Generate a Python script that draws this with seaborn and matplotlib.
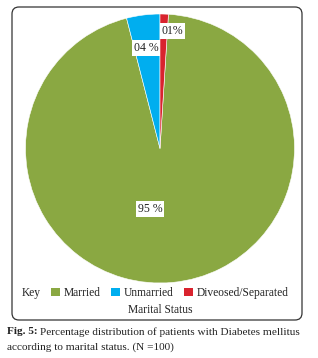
import numpy as np
import matplotlib
matplotlib.use("Agg")
import matplotlib.pyplot as plt
import seaborn as sns
from matplotlib.patches import FancyBboxPatch, Patch
from matplotlib.transforms import IdentityTransform

# Data: marital status of patients with diabetes mellitus (N=100)
categories = ["Married", "Unmarried", "Diveosed/Separated"]
percentages = [95, 4, 1]
pct_labels = ["95 %", "04 %", "01%"]

sns.set_theme(style="white")
plt.rcParams['font.family'] = ['Liberation Serif', 'DejaVu Serif']
colors = ["#8aa842", "#00aeef", "#d9232e"]

W, H = 318, 358
fig = plt.figure(figsize=(W / 100, H / 100), dpi=100)
fig.patch.set_facecolor("white")

# rounded frame around the chart (pixel coords, origin bottom-left)
frame = FancyBboxPatch((12, H - 320), 290, 313,
                       boxstyle="round,pad=0,rounding_size=7",
                       transform=IdentityTransform(), facecolor="none",
                       edgecolor="#333333", linewidth=0.9)
fig.patches.append(frame)

# pie axes
cx, cy, r = 160, H - 148.5, 134.5
ax = fig.add_axes([(cx - r) / W, (cy - r) / H, 2 * r / W, 2 * r / H])
wedges, _ = ax.pie(percentages, colors=colors, startangle=86.4,
                   counterclock=False, radius=1,
                   wedgeprops=dict(edgecolor="white", linewidth=0.4))
ax.set_xlim(-1, 1)
ax.set_ylim(-1, 1)
ax.set_aspect("equal")
ax.axis("off")

# percentage labels in white boxes
label_pos = [(-0.075, -0.45), (-0.105, 0.747), (0.09, 0.874)]
for (x, y), txt in zip(label_pos, pct_labels):
    ax.text(x, y, txt, ha="center", va="center", fontsize=8.5, color="#222222",
            bbox=dict(facecolor="white", edgecolor="none", pad=1.2))

# legend
fs = 8.3
fig.text(22 / W, 1 - 293 / H, "Key", fontsize=fs, va="center", ha="left", color="#222222")
handles = [Patch(facecolor=c, edgecolor="none") for c in colors]
fig.legend(handles, categories, loc="center left", bbox_to_anchor=(51 / W, 1 - 293 / H),
           ncol=3, frameon=False, fontsize=fs, handlelength=0.8, handleheight=0.8,
           handletextpad=0.3, columnspacing=0.9, borderpad=0, borderaxespad=0,
           labelcolor="#222222")
fig.text(160 / W, 1 - 310 / H, "Marital Status", fontsize=fs, ha="center", va="center",
         color="#222222")

# caption
cfs = 8.1
t = fig.text(7 / W, 1 - 332 / H, "Fig. 5:", fontsize=cfs, fontweight="bold",
             va="center", ha="left", color="#222222")
fig.canvas.draw()
bb = t.get_window_extent()
fig.text((bb.x1 + 2) / W, 1 - 332 / H,
         "Percentage distribution of patients with Diabetes mellitus",
         fontsize=cfs, va="center", ha="left", color="#222222")
fig.text(7 / W, 1 - 347 / H, "according to marital status. (N =100)",
         fontsize=cfs, va="center", ha="left", color="#222222")

fig.savefig("out.png", dpi=100)
